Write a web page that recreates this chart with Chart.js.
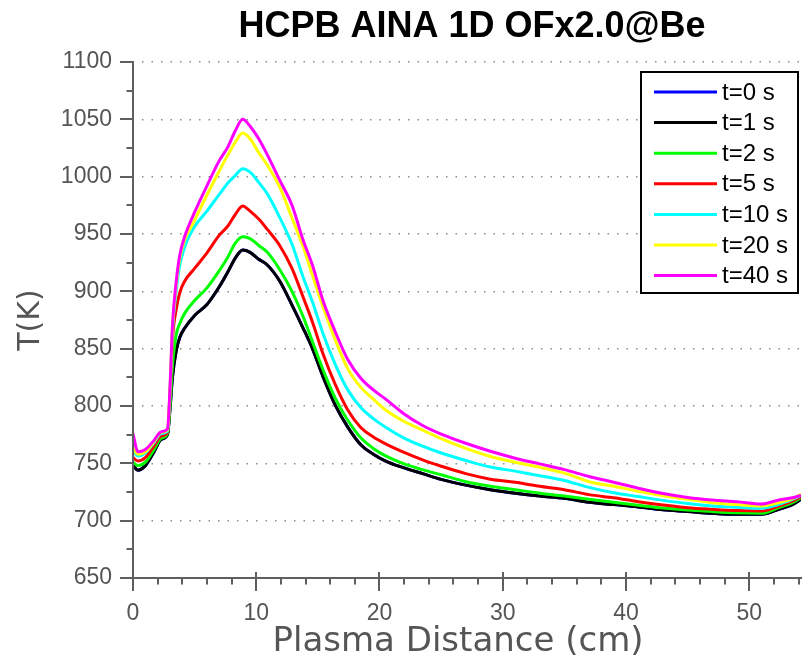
<!DOCTYPE html>
<html>
<head>
<meta charset="utf-8">
<title>HCPB AINA 1D OFx2.0@Be</title>
<script src="https://cdn.jsdelivr.net/npm/chart.js@4.4.1/dist/chart.umd.min.js"></script>
<style>
  html, body { margin: 0; padding: 0; background: #ffffff; }
  #wrap { width: 803px; height: 666px; position: relative; }
</style>
</head>
<body>
<div id="wrap"><canvas id="chart" width="803" height="666"></canvas></div>
<script>
// Distance from the plasma-facing wall (cm)
const distance = [0, 0.4, 1, 1.7, 2.3, 2.8, 3.0, 3.2, 3.5, 3.8, 4.2, 5.0, 6.0, 7.0, 7.7, 8.3, 8.9,
  9.5, 10.2, 10.9, 11.9, 12.9, 13.8, 14.6, 15.4, 16.4, 17.4, 18.5, 19.5, 20.5, 22, 23.5,
  25, 27, 29, 31, 33, 35, 37, 39, 41, 43, 45, 47, 49, 51, 52.4, 53.5, 54.2];

// Temperature profiles (K) at each time
const tempT0 = [748, 744, 748, 760, 771, 775, 797, 825, 848, 860, 868, 879, 888.5, 904, 917, 929, 936,
  934, 928, 923, 909, 888, 868, 849, 826, 801, 782, 766, 758, 752, 746, 741,
  736, 731, 727, 724, 721.5, 719.5, 716, 714, 712, 709.5, 708, 706.4, 705.5, 705.5, 709.9, 714, 718.6];
const tempT1 = [748, 744, 748, 760, 771, 775, 797, 825, 848, 860, 868, 879, 888.5, 904, 917, 929, 936,
  934, 928, 923, 909, 888, 868, 849, 826, 801, 782, 766, 758, 752, 746, 741,
  736, 731, 727, 724, 721.5, 719.5, 716, 714, 712, 709.5, 708, 706.4, 705.5, 705.5, 709.9, 714, 718.6];
const tempT2 = [751, 748, 751, 762, 772, 776, 800, 835, 862, 872, 881, 892, 903, 918, 930, 942, 947.5,
  946, 940, 934, 919, 900, 878, 855, 832, 807, 788, 772, 763, 756.5, 749.5, 744.5,
  740, 734, 730, 727, 724, 721.5, 718.6, 716, 713.5, 711, 709.3, 707.9, 706.8, 706.4, 711.4, 715.7, 720];
const tempT5 = [755, 752, 755, 765, 774, 777, 810, 858, 884, 899, 909, 920, 933.5, 949, 957, 967, 974.5,
  970, 963, 954, 940, 920, 895, 872, 846, 819, 797, 781, 773, 767, 759.5, 753,
  747.5, 741, 736.2, 733.5, 730, 727, 722.7, 720, 716.5, 713.6, 711.3, 709.9, 708.8, 708.4, 712.8, 717.1, 720.9];
const tempT10 = [761, 756.5, 759, 768, 776, 778, 812, 865, 900, 923, 939, 956.5, 970, 984.5, 994.5, 1001, 1007,
  1004, 995, 985, 964.5, 941, 912.5, 889.5, 863.7, 836.5, 814.5, 798.5, 789, 781.5, 772, 765,
  759, 752.5, 746.8, 743.2, 739.2, 735, 729, 724.3, 721, 717.7, 714.9, 712.8, 711.7, 710.8, 714.2, 718.6, 722];
const tempT20 = [763, 758, 760, 769, 777, 779, 814, 868, 905, 929, 945, 962, 984, 1005, 1019, 1030, 1038,
  1033, 1021, 1010, 991, 964, 939, 912.7, 887, 858, 833, 816, 806, 796.5, 786.5, 779,
  771.5, 763, 756, 751, 746.5, 741.5, 734, 730, 725.6, 721.8, 718.6, 715.7, 714, 712.8, 715.7, 719.2, 722.9];
const tempT40 = [776, 760, 762, 770, 777.6, 780, 816, 870, 908, 932, 948, 969, 992, 1014, 1026, 1040, 1050,
  1044, 1033, 1019, 997, 975, 944.7, 921.5, 892.5, 865, 841, 824, 814, 806, 793, 783,
  775.5, 767.5, 760.5, 754.5, 749.5, 744.5, 738.5, 733.5, 728.3, 723.7, 720.3, 718, 716.5, 714.5, 718, 720, 722];

const seriesLabels = ['t=0 s', 't=1 s', 't=2 s', 't=5 s', 't=10 s', 't=20 s', 't=40 s'];
const seriesColors = ['#0000ff', '#000000', '#00ff00', '#ff0000', '#00ffff', '#ffff00', '#ff00ff'];
const seriesValues = [tempT0, tempT1, tempT2, tempT5, tempT10, tempT20, tempT40];

// Axis ticks
const tempTicks = [650, 700, 750, 800, 850, 900, 950, 1000, 1050, 1100];
const distTicks = [0, 10, 20, 30, 40, 50];

const titleText = 'HCPB AINA 1D OFx2.0@Be';
const xTitleText = 'Plasma Distance (cm)';
const yTitleText = 'T(K)';

const AXIS_GREY = '#5f5f5f';
const LABEL_GREY = '#555555';

const datasets = seriesValues.map((vals, i) => ({
  label: seriesLabels[i],
  data: distance.map((d, j) => ({ x: d, y: vals[j] })),
  borderColor: seriesColors[i],
  backgroundColor: seriesColors[i],
  borderWidth: 3,
  pointRadius: 0,
  fill: false,
  cubicInterpolationMode: 'monotone',
  order: seriesValues.length - i   // later series drawn on top
}));

// Axis lines, crossing tick marks, titles and the boxed legend
const decorations = {
  id: 'decorations',
  afterDatasetsDraw(chart) {
    const { ctx, chartArea: a, scales: { x, y } } = chart;
    ctx.save();

    // axis lines
    ctx.strokeStyle = AXIS_GREY;
    ctx.lineWidth = 2;
    ctx.beginPath();
    ctx.moveTo(a.left, a.top - 1);
    ctx.lineTo(a.left, a.bottom);
    ctx.lineTo(a.right + 1, a.bottom);
    ctx.stroke();

    // y ticks: majors + halfway minors, pointing outward
    ctx.lineWidth = 2;
    ctx.beginPath();
    tempTicks.forEach((v, i) => {
      const py = Math.round(y.getPixelForValue(v));
      ctx.moveTo(a.left - 13, py); ctx.lineTo(a.left, py);
      if (i < tempTicks.length - 1) {
        const pm = Math.round(y.getPixelForValue((v + tempTicks[i + 1]) / 2));
        ctx.moveTo(a.left - 6.5, pm); ctx.lineTo(a.left, pm);
      }
    });
    // x ticks: majors cross the axis, minors every fifth below it
    distTicks.forEach((v, i) => {
      const px = Math.round(x.getPixelForValue(v));
      ctx.moveTo(px, a.bottom - 6); ctx.lineTo(px, a.bottom + 13);
      const step = i < distTicks.length - 1 ? (distTicks[i + 1] - v) : (distTicks[1] - distTicks[0]);
      for (let k = 1; k < 5; k++) {
        const mv = v + step * k / 5;
        if (mv > x.max) break;
        const pm = Math.round(x.getPixelForValue(mv));
        ctx.moveTo(pm, a.bottom); ctx.lineTo(pm, a.bottom + 6.5);
      }
    });
    ctx.stroke();

    // chart title
    ctx.fillStyle = '#000000';
    ctx.font = 'bold 36px "Liberation Sans", Arial, sans-serif';
    ctx.textAlign = 'center';
    ctx.textBaseline = 'middle';
    ctx.fillText(titleText, 472, 27);

    // axis titles
    ctx.fillStyle = LABEL_GREY;
    ctx.font = '34px "DejaVu Sans", sans-serif';
    ctx.fillText(xTitleText, 458, 642);
    ctx.save();
    ctx.translate(31, 320);
    ctx.rotate(-Math.PI / 2);
    ctx.font = '30px "DejaVu Sans", sans-serif';
    ctx.fillText(yTitleText, 0, 0);
    ctx.restore();

    // legend box
    const box = { left: 641, top: 72, right: 798, bottom: 293 };
    ctx.fillStyle = '#ffffff';
    ctx.fillRect(box.left, box.top, box.right - box.left, box.bottom - box.top);
    ctx.strokeStyle = '#000000';
    ctx.lineWidth = 2;
    ctx.strokeRect(box.left, box.top, box.right - box.left, box.bottom - box.top);
    ctx.font = '24px "Liberation Sans", Arial, sans-serif';
    ctx.textAlign = 'left';
    ctx.textBaseline = 'middle';
    chart.data.datasets.forEach((ds, i) => {
      const rowY = 92 + i * 30.6;
      ctx.strokeStyle = ds.borderColor;
      ctx.lineWidth = 3;
      ctx.beginPath();
      ctx.moveTo(654, rowY); ctx.lineTo(717, rowY);
      ctx.stroke();
      ctx.fillStyle = '#000000';
      ctx.fillText(ds.label, 722, rowY + 1);
    });

    ctx.restore();
  }
};

new Chart(document.getElementById('chart'), {
  type: 'line',
  data: { datasets },
  options: {
    responsive: false,
    animation: false,
    devicePixelRatio: 1,
    layout: { padding: { top: 62, right: 2, left: 0, bottom: 0 } },
    plugins: {
      legend: { display: false },
      title: { display: false },
      tooltip: { enabled: false }
    },
    scales: {
      x: {
        type: 'linear',
        min: 0,
        max: 54.2,
        afterFit: (s) => { s.height = 88; },
        afterBuildTicks: (s) => { s.ticks = distTicks.map(v => ({ value: v })); },
        ticks: {
          includeBounds: false,
          autoSkip: false,
          maxRotation: 0,
          padding: 22,
          color: LABEL_GREY,
          font: { family: '"Liberation Sans", Arial, sans-serif', size: 23 },
          callback: (v) => String(v)
        },
        grid: { display: false, drawTicks: false },
        border: { display: false }
      },
      y: {
        type: 'linear',
        min: 650,
        max: 1100,
        afterFit: (s) => { s.width = 133; },
        afterBuildTicks: (s) => { s.ticks = tempTicks.map(v => ({ value: v })); },
        ticks: {
          includeBounds: false,
          autoSkip: false,
          padding: 21,
          color: LABEL_GREY,
          font: { family: '"Liberation Sans", Arial, sans-serif', size: 23 },
          callback: (v) => String(v)
        },
        grid: {
          display: true,
          drawTicks: false,
          drawOnChartArea: true,
          color: '#8c8c8c',
          lineWidth: 1.5
        },
        border: { display: false, dash: [1.5, 8], dashOffset: -9 }
      }
    }
  },
  plugins: [decorations]
});
</script>
</body>
</html>
